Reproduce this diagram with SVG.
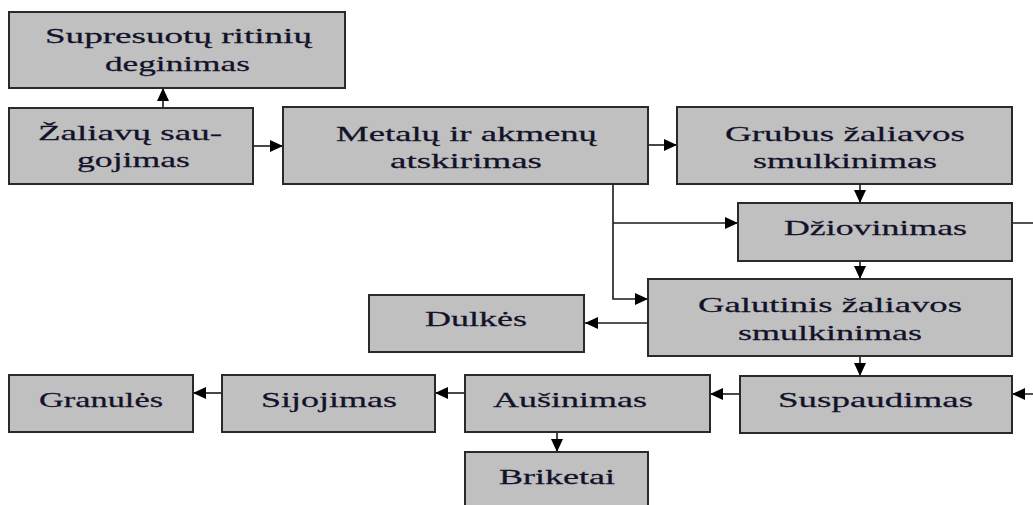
<svg xmlns="http://www.w3.org/2000/svg" width="1033" height="505" viewBox="0 0 1033 505">
<style>
  .box { fill: #c0c0c0; stroke: #2a2a2a; stroke-width: 2; }
  .lbl { font-family: "Liberation Serif", "Times New Roman", serif; font-size: 22px; fill: #12122a; stroke: #12122a; stroke-width: 0.25; }
  .conn { fill: none; stroke: #1a1a1a; stroke-width: 1.6; }
</style>
<defs>
  <marker id="ah" markerUnits="userSpaceOnUse" markerWidth="16" markerHeight="16" viewBox="0 0 16 16" refX="13" refY="8" orient="auto">
    <path d="M0,2 L13,8 L0,14 Z" fill="#000"/>
  </marker>
</defs>
<rect width="1033" height="505" fill="#ffffff"/>

<g id="connectors">
  <path class="conn" d="M163,108 V88" marker-end="url(#ah)"/>
  <path class="conn" d="M253,146 H283" marker-end="url(#ah)"/>
  <path class="conn" d="M648,145 H677" marker-end="url(#ah)"/>
  <path class="conn" d="M860,184 V203" marker-end="url(#ah)"/>
  <path class="conn" d="M613,184 V299 H648" marker-end="url(#ah)"/>
  <path class="conn" d="M613,223 H738" marker-end="url(#ah)"/>
  <path class="conn" d="M860,261 V279" marker-end="url(#ah)"/>
  <path class="conn" d="M1012,223 H1050 V394 H1012" marker-end="url(#ah)"/>
  <path class="conn" d="M648,323 H585" marker-end="url(#ah)"/>
  <path class="conn" d="M860,356 V376" marker-end="url(#ah)"/>
  <path class="conn" d="M740,394 H710" marker-end="url(#ah)"/>
  <path class="conn" d="M465,393 H435" marker-end="url(#ah)"/>
  <path class="conn" d="M222,393 H193" marker-end="url(#ah)"/>
  <path class="conn" d="M557,432 V452" marker-end="url(#ah)"/>
</g>

<g id="supresuotu">
  <rect class="box" x="9" y="12" width="336" height="76"/>
  <text class="lbl" transform="scale(1.6,1)" x="28.1" y="43" textLength="166.9" lengthAdjust="spacingAndGlyphs">Supresuotų ritinių</text>
  <text class="lbl" transform="scale(1.6,1)" x="65.6" y="71" textLength="90.6" lengthAdjust="spacingAndGlyphs">deginimas</text>
</g>
<g id="zaliavu">
  <rect class="box" x="9" y="108" width="244" height="76"/>
  <text class="lbl" transform="scale(1.6,1)" x="23.75" y="140" textLength="115" lengthAdjust="spacingAndGlyphs">Žaliavų sau-</text>
  <text class="lbl" transform="scale(1.6,1)" x="48.1" y="167" textLength="70.6" lengthAdjust="spacingAndGlyphs">gojimas</text>
</g>
<g id="metalu">
  <rect class="box" x="283" y="107" width="365" height="77"/>
  <text class="lbl" transform="scale(1.6,1)" x="210" y="141" textLength="163.1" lengthAdjust="spacingAndGlyphs">Metalų ir akmenų</text>
  <text class="lbl" transform="scale(1.6,1)" x="243.75" y="168" textLength="95" lengthAdjust="spacingAndGlyphs">atskirimas</text>
</g>
<g id="grubus">
  <rect class="box" x="677" y="107" width="335" height="77"/>
  <text class="lbl" transform="scale(1.6,1)" x="453.1" y="141" textLength="150" lengthAdjust="spacingAndGlyphs">Grubus žaliavos</text>
  <text class="lbl" transform="scale(1.6,1)" x="470.6" y="168" textLength="115" lengthAdjust="spacingAndGlyphs">smulkinimas</text>
</g>
<g id="dziovinimas">
  <rect class="box" x="738" y="203" width="274" height="58"/>
  <text class="lbl" transform="scale(1.6,1)" x="490" y="235" textLength="114.4" lengthAdjust="spacingAndGlyphs">Džiovinimas</text>
</g>
<g id="galutinis">
  <rect class="box" x="648" y="279" width="364" height="77"/>
  <text class="lbl" transform="scale(1.6,1)" x="436.25" y="312" textLength="165" lengthAdjust="spacingAndGlyphs">Galutinis žaliavos</text>
  <text class="lbl" transform="scale(1.6,1)" x="461.25" y="340" textLength="115" lengthAdjust="spacingAndGlyphs">smulkinimas</text>
</g>
<g id="dulkes">
  <rect class="box" x="369" y="295" width="215" height="57"/>
  <text class="lbl" transform="scale(1.6,1)" x="265.6" y="326" textLength="63.75" lengthAdjust="spacingAndGlyphs">Dulkės</text>
</g>
<g id="suspaudimas">
  <rect class="box" x="740" y="376" width="272" height="57"/>
  <text class="lbl" transform="scale(1.6,1)" x="486.25" y="407" textLength="121.9" lengthAdjust="spacingAndGlyphs">Suspaudimas</text>
</g>
<g id="ausinimas">
  <rect class="box" x="465" y="375" width="245" height="57"/>
  <text class="lbl" transform="scale(1.6,1)" x="308.1" y="407" textLength="96.25" lengthAdjust="spacingAndGlyphs">Aušinimas</text>
</g>
<g id="sijojimas">
  <rect class="box" x="222" y="375" width="213" height="57"/>
  <text class="lbl" transform="scale(1.6,1)" x="163.1" y="407" textLength="85" lengthAdjust="spacingAndGlyphs">Sijojimas</text>
</g>
<g id="granules">
  <rect class="box" x="9" y="375" width="184" height="57"/>
  <text class="lbl" transform="scale(1.6,1)" x="24.4" y="407" textLength="77.5" lengthAdjust="spacingAndGlyphs">Granulės</text>
</g>
<g id="briketai">
  <rect class="box" x="465" y="452" width="183" height="70"/>
  <text class="lbl" transform="scale(1.6,1)" x="311.9" y="484" textLength="72.5" lengthAdjust="spacingAndGlyphs">Briketai</text>
</g>
</svg>
